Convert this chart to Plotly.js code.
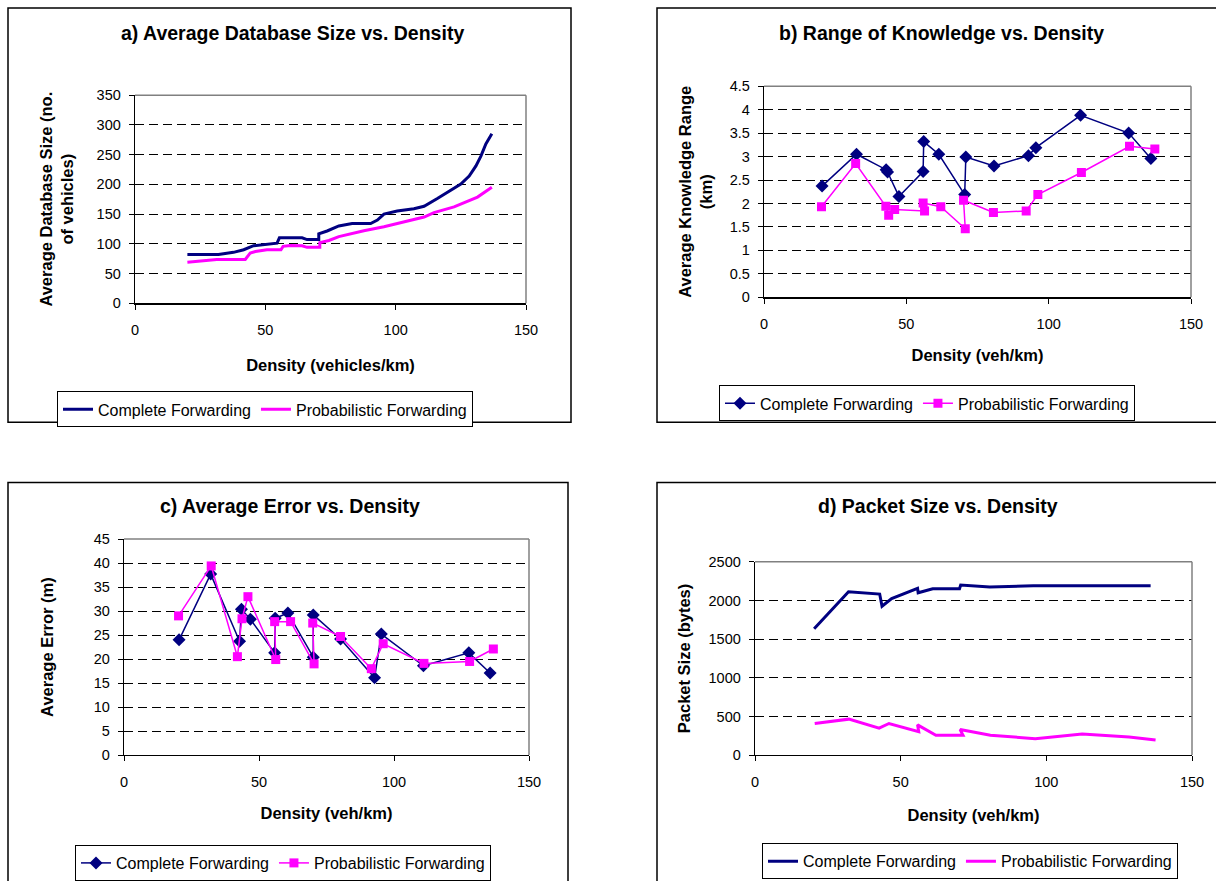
<!DOCTYPE html>
<html>
<head>
<meta charset="utf-8">
<script src="https://cdn.plot.ly/plotly-3.0.1.min.js"></script>
<style>html,body{margin:0;padding:0;background:#fff;}#chart{width:1216px;height:881px;}</style>
</head>
<body>
<div id="chart"></div>
<script>
// ---------- DATA ----------
const seriesNames = ["Complete Forwarding", "Probabilistic Forwarding"];

// a) Average Database Size vs. Density
const aDensityComplete = [20.1, 32, 37.8, 41.7, 45.5, 50.6, 54.5, 55.4, 64.1, 66, 70.5, 70.5, 73.7, 78.2, 83.3, 90.4, 93, 95.5, 100.6, 107, 110.9, 116, 121, 125, 128.2, 130.8, 132.7, 134.6, 136.9];
const aSizeComplete    = [82, 82, 85.6, 90, 96.7, 99.5, 101, 110, 110, 107, 107, 116.6, 121.5, 130, 134, 134, 140, 150, 155, 159, 163, 176, 190, 200.5, 214, 231, 247.5, 268, 285];
const aDensityProb     = [20.1, 31.4, 42.3, 44.2, 46.2, 50.6, 56, 56.8, 59.6, 64.1, 66, 70.9, 70.9, 74.4, 78.2, 87.8, 95.5, 105.8, 110.9, 114.7, 122.4, 131.4, 136.9];
const aSizeProb        = [69, 73.5, 73.5, 84.5, 87, 90, 90, 95.6, 97, 96.7, 94, 94, 102, 105.5, 112, 122, 128.7, 140, 145, 152.5, 162, 178.5, 195];

// b) Range of Knowledge vs. Density
const bDensityComplete = [20.4, 32.5, 42.9, 43.4, 47.4, 55.9, 56.1, 61.4, 70.5, 70.9, 80.8, 92.9, 95.5, 111.2, 128.1, 135.9];
const bRangeComplete   = [2.37, 3.05, 2.72, 2.67, 2.15, 2.68, 3.32, 3.05, 2.19, 2.99, 2.80, 3.02, 3.19, 3.88, 3.50, 2.96];
const bDensityProb     = [20.2, 32.2, 42.8, 43.8, 45.9, 56.4, 55.9, 62.1, 70.7, 70.1, 80.6, 92.1, 96.2, 111.5, 128.4, 137.3];
const bRangeProb       = [1.93, 2.85, 1.94, 1.75, 1.87, 1.84, 2.01, 1.93, 1.46, 2.07, 1.81, 1.84, 2.19, 2.66, 3.22, 3.16];

// c) Average Error vs. Density
const cDensityComplete = [20.4, 32.1, 42.8, 43.5, 46.8, 55.8, 56.0, 60.7, 70.1, 70.1, 80.2, 92.8, 95.3, 110.9, 127.7, 135.6];
const cErrorComplete   = [24.0, 37.7, 23.7, 30.4, 28.3, 21.3, 28.5, 29.6, 20.4, 29.2, 24.2, 16.1, 25.2, 18.6, 21.3, 17.1];
const cDensityProb     = [20.2, 32.3, 42.0, 43.7, 45.9, 56.2, 55.8, 61.7, 70.4, 69.9, 80.2, 91.6, 96.0, 111.1, 128.0, 136.8];
const cErrorProb       = [29.0, 39.4, 20.5, 28.4, 33.0, 19.9, 27.8, 27.8, 19.0, 27.5, 24.7, 18.0, 23.2, 19.1, 19.5, 22.1];

// d) Packet Size vs. Density
const dDensityComplete = [20.3, 32.1, 42.8, 43.6, 46.9, 55.8, 56.0, 61.0, 70.2, 70.6, 80.6, 92.7, 95.5, 111.0, 128.2, 135.8];
const dPacketComplete  = [1635, 2113, 2083, 1926, 2026, 2157, 2100, 2152, 2152, 2200, 2174, 2192, 2192, 2192, 2192, 2190];
const dDensityProb     = [20.5, 32.2, 42.6, 46.0, 56.2, 55.8, 62.1, 71.4, 70.4, 80.8, 96.2, 112.3, 128.4, 137.5];
const dPacketProb      = [409, 465, 348, 409, 304, 391, 257, 257, 330, 257, 213, 274, 235, 196];

const titles = ["a) Average Database Size vs. Density", "b) Range of Knowledge vs. Density", "c) Average Error vs. Density", "d) Packet Size vs. Density"];
const xTitles = ["Density (vehicles/km)", "Density (veh/km)", "Density (veh/km)", "Density (veh/km)"];
const yTitles = ["Average Database Size (no.<br>of vehicles)", "Average Knowledge Range<br>(km)", "Average Error (m)", "Packet Size (bytes)"];

// ---------- STYLE / LAYOUT ----------
const W = 1216, H = 881;
const px = v => v / W;
const py = v => 1 - v / H;
const NAVY = "#000080", MAG = "#FF00FF";
const FONT = "Liberation Sans, Arial, Helvetica, sans-serif";

function lineTrace(x, y, name, color, xa, ya, leg, width) {
  return {x, y, name, type: "scatter", mode: "lines", xaxis: xa, yaxis: ya, legend: leg,
          line: {color, width, shape: "linear"}, hoverinfo: "x+y"};
}
function markerTrace(x, y, name, color, symbol, size, xa, ya, leg) {
  return {x, y, name, type: "scatter", mode: "lines+markers", xaxis: xa, yaxis: ya, legend: leg,
          line: {color, width: 1.5}, marker: {color, symbol, size, line: {width: 0}}, hoverinfo: "x+y"};
}

const traces = [
  lineTrace(aDensityComplete, aSizeComplete, seriesNames[0], NAVY, "x", "y", "legend", 3),
  lineTrace(aDensityProb, aSizeProb, seriesNames[1], MAG, "x", "y", "legend", 3),
  markerTrace(bDensityComplete, bRangeComplete, seriesNames[0], NAVY, "diamond", 10, "x2", "y2", "legend2"),
  markerTrace(bDensityProb, bRangeProb, seriesNames[1], MAG, "square", 9, "x2", "y2", "legend2"),
  markerTrace(cDensityComplete, cErrorComplete, seriesNames[0], NAVY, "diamond", 10, "x3", "y3", "legend3"),
  markerTrace(cDensityProb, cErrorProb, seriesNames[1], MAG, "square", 9, "x3", "y3", "legend3"),
  lineTrace(dDensityComplete, dPacketComplete, seriesNames[0], NAVY, "x4", "y4", "legend4", 3),
  lineTrace(dDensityProb, dPacketProb, seriesNames[1], MAG, "x4", "y4", "legend4", 3)
];

// plot areas in pixels: [left, right, top, bottom]
const areas = [[135, 526, 96, 306], [764, 1191, 87, 300], [124, 529, 544, 762], [755, 1192, 567, 762]];
const yRanges = [[0, 350, 50], [0, 4.5, 0.5], [0, 45, 5], [0, 2500, 500]];
const yStandoff = [18, 12, 36, 13];
const xStandoff = [22, 18, 18, 20];

const layout = {
  width: W, height: H, margin: {l: 0, r: 0, t: 0, b: 0},
  paper_bgcolor: "#fff", plot_bgcolor: "#fff",
  font: {family: FONT, color: "#000", size: 14},
  showlegend: true,
  annotations: [], shapes: []
};

const titlePos = [[292, 33], [941, 33], [290, 511], [938, 511]];
const legendPos = [[57, 395], [719, 389], [75, 853], [762, 851]];
const legendKeys = ["legend", "legend2", "legend3", "legend4"];

areas.forEach((a, i) => {
  const sfx = i === 0 ? "" : String(i + 1);
  layout["xaxis" + sfx] = {
    domain: [px(a[0]), px(a[1])], anchor: "y" + sfx, range: [0, 150], tick0: 0, dtick: 50,
    ticks: "outside", ticklen: 5, tickwidth: 1, tickcolor: "#000",
    showline: true, linecolor: "#000", linewidth: 1.3, showgrid: false, zeroline: false,
    tickfont: {size: 14.5, family: FONT}, ticklabelstandoff: 8, fixedrange: true, automargin: false,
    title: {text: xTitles[i], font: {size: 16.5, family: FONT, weight: "bold"}, standoff: xStandoff[i]}
  };
  layout["yaxis" + sfx] = {
    domain: [py(a[3]), py(a[2])], anchor: "x" + sfx, range: [yRanges[i][0], yRanges[i][1]], tick0: 0, dtick: yRanges[i][2],
    ticks: "outside", ticklen: 5, tickwidth: 1, tickcolor: "#000",
    showline: true, linecolor: "#000", linewidth: 1.3, showgrid: true, gridcolor: "#000", gridwidth: 1,
    griddash: "9px,5px", zeroline: false,
    tickfont: {size: 14.5, family: FONT}, ticklabelstandoff: 5, fixedrange: true, automargin: false,
    title: {text: yTitles[i], font: {size: 16.5, family: FONT, weight: "bold"}, standoff: yStandoff[i]}
  };
  // grey top & right borders of the plot area
  layout.shapes.push({type: "line", xref: "x" + sfx + " domain", yref: "y" + sfx + " domain", x0: 0, x1: 1, y0: 1, y1: 1, line: {color: "#808080", width: 1.5}});
  layout.shapes.push({type: "line", xref: "x" + sfx + " domain", yref: "y" + sfx + " domain", x0: 1, x1: 1, y0: 0, y1: 1, line: {color: "#808080", width: 1.5}});
  // chart title
  layout.annotations.push({text: titles[i], x: px(titlePos[i][0]), y: py(titlePos[i][1]), xref: "paper", yref: "paper",
    xanchor: "center", yanchor: "middle", showarrow: false, font: {size: 19.5, family: FONT, weight: "bold", color: "#000"}});
  // legend
  layout[legendKeys[i]] = {
    x: px(legendPos[i][0]), y: py(legendPos[i][1]), xanchor: "left", yanchor: "top", orientation: "h",
    bordercolor: "#000", borderwidth: 1, bgcolor: "#fff", font: {size: 16, family: FONT}, itemclick: false, itemdoubleclick: false
  };
});

// outer frames of the four panels
const frames = [[8, 571, 8, 426], [657, 1230, 8, 426], [8, 568, 487, 900], [657, 1230, 487, 900]];
frames.forEach(f => {
  layout.shapes.push({type: "rect", xref: "paper", yref: "paper", x0: px(f[0]), x1: px(f[1]), y0: py(f[3]), y1: py(f[2]),
    line: {color: "#000", width: 1.5}, fillcolor: "rgba(0,0,0,0)", layer: "below"});
});

Plotly.newPlot("chart", traces, layout, {displayModeBar: false, staticPlot: true});
</script>
</body>
</html>
